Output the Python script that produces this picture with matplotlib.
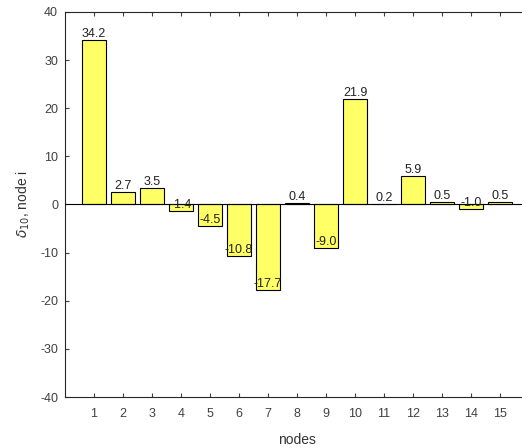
import matplotlib.pyplot as plt

nodes = list(range(1, 16))
delta = [34.2, 2.7, 3.5, -1.4, -4.5, -10.8, -17.7, 0.4, -9.0, 21.9, 0.2, 5.9, 0.5, -1.0, 0.5]
labels = ['%.1f' % v for v in delta]

plt.rcParams['font.family'] = ['Liberation Sans', 'DejaVu Sans']
plt.rcParams['axes.unicode_minus'] = False

fig = plt.figure(figsize=(5.22, 4.48), dpi=100)
ax = fig.add_axes([65 / 522, 51 / 448, 464 / 522, 385 / 448])

ax.bar(nodes, delta, width=0.8, color='#ffff66', edgecolor='black', linewidth=0.8, zorder=2)
ax.axhline(0, color='black', linewidth=0.8, zorder=3)
for x, v, s in zip(nodes, delta, labels):
    ax.text(x, v, s, ha='center', va='bottom', fontsize=9, color='#222222', zorder=4)

ax.set_xlim(0, 16)
ax.set_ylim(-40, 40)
ax.set_xticks(nodes)
ax.set_yticks(range(-40, 41, 10))
ax.tick_params(direction='in', top=True, right=True, labelsize=9, colors='#404040', length=3)
ax.tick_params(axis='x', pad=8)
ax.tick_params(axis='y', pad=5)
for sp in ax.spines.values():
    sp.set_color('#262626')
ax.set_xlabel('nodes', fontsize=10, color='#333333', labelpad=9)
ax.set_ylabel(r'$\delta_{10}$, node i', fontsize=10, color='#333333', labelpad=6)

fig.savefig('out.png', dpi=100)
